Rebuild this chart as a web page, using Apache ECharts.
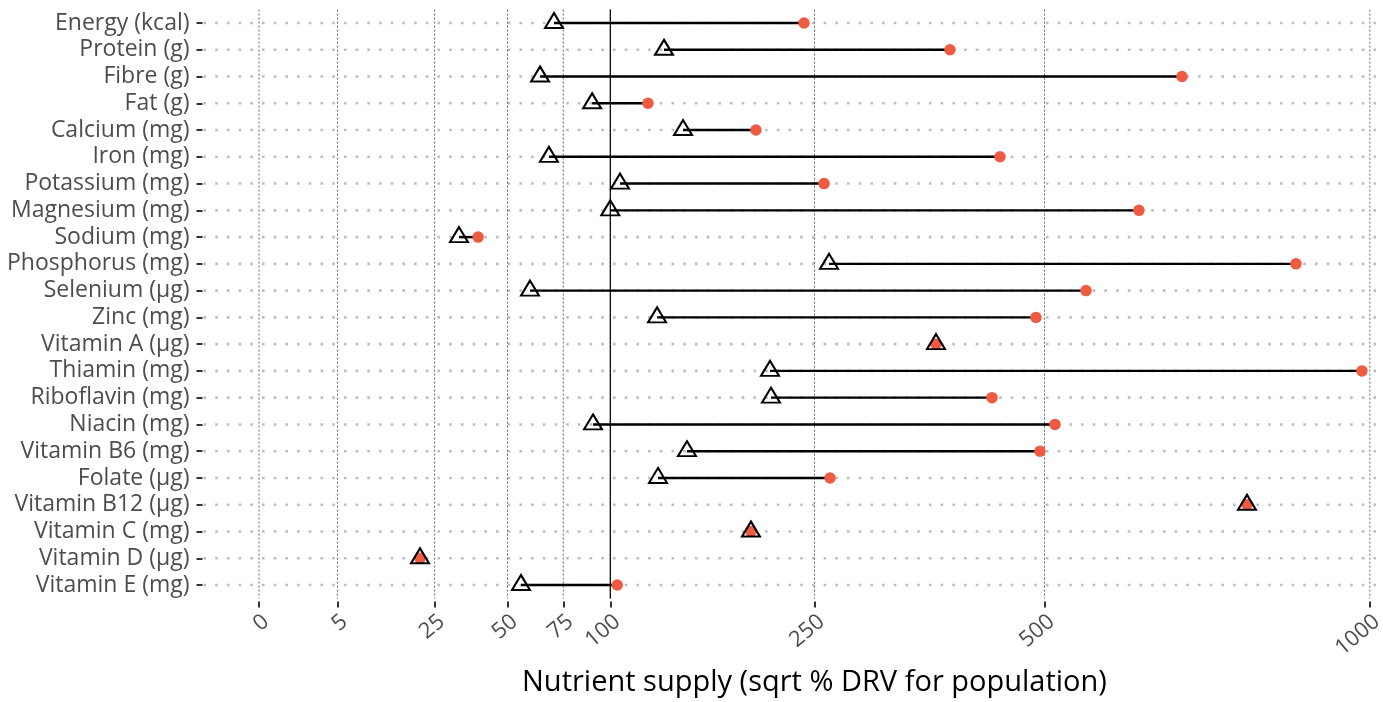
<!DOCTYPE html>
<html><head><meta charset="utf-8">
<script src="https://cdn.jsdelivr.net/npm/echarts@6/dist/echarts.min.js"></script>
<style>html,body{margin:0;padding:0;background:#fff}#c{width:1383px;height:702px}</style>
</head><body><div id="c"></div>
<script>
const categories = ["Energy (kcal)","Protein (g)","Fibre (g)","Fat (g)","Calcium (mg)","Iron (mg)","Potassium (mg)","Magnesium (mg)","Sodium (mg)","Phosphorus (mg)","Selenium (µg)","Zinc (mg)","Vitamin A (µg)","Thiamin (mg)","Riboflavin (mg)","Niacin (mg)","Vitamin B6 (mg)","Folate (µg)","Vitamin B12 (µg)","Vitamin C (mg)","Vitamin D (µg)","Vitamin E (mg)"];
const triangleValues = [70.5,132.9,64.0,89.9,145.7,68.1,105.6,100,32.4,263.3,59.5,128.4,371.4,211.6,212.4,90.4,148.4,129.0,791.0,196.1,21.0,55.6];
const circleValues = [240.7,386.9,690.3,122.6,200.1,444.9,258.7,627.5,38.9,871.4,554.2,489.2,371.4,985.8,435.4,513.4,494.2,264.2,791.0,196.1,21.0,104.0];
const tickLabels = [0,5,25,50,75,100,250,500,1000];
const refValue = 100;

const sq = Math.sqrt;
const tickPos = tickLabels.map(v => sq(v));
const axisMax = sq(1000) * 1.05;
const axisMin = -sq(1000) * 0.05;

const chart = echarts.init(document.getElementById('c'));
const FONT = 'Open Sans';
const segData = categories.map((c, i) => [sq(triangleValues[i]), sq(circleValues[i]), i]);

function vline(color, width, dash) {
  return (params, api) => {
    const cs = params.coordSys;
    const x = api.coord([api.value(0), 0])[0];
    return {type: 'line', shape: {x1: x, y1: cs.y, x2: x, y2: cs.y + cs.height},
      style: {stroke: color, lineWidth: width, lineDash: dash}};
  };
}

chart.setOption({
  animation: false,
  grid: {left: 203.5, width: 1221.9, top: 9.6, height: 588.8, containLabel: false, outerBoundsMode: 'none'},
  xAxis: {
    type: 'value', min: axisMin, max: axisMax, offset: 3,
    axisLine: {show: false, onZero: false},
    axisTick: {show: true, customValues: tickPos, length: 6, lineStyle: {color: '#333', width: 2}},
    axisLabel: {customValues: tickPos, rotate: 40, margin: 9, verticalAlign: 'top', align: 'right',
      color: '#4d4d4d', fontSize: 22, fontFamily: FONT,
      formatter: v => String(Math.round(v * v))},
    splitLine: {show: false},
    name: 'Nutrient supply (sqrt % DRV for population)', nameLocation: 'middle', nameGap: 67,
    nameTextStyle: {color: '#000', fontSize: 29, fontFamily: FONT}
  },
  yAxis: {
    type: 'category', inverse: true, data: categories, offset: 1,
    axisLine: {show: false, onZero: false},
    axisTick: {show: true, alignWithLabel: true, interval: 0, length: 6, lineStyle: {color: '#333', width: 2}},
    axisLabel: {interval: 0, color: '#4d4d4d', fontSize: 23, fontFamily: FONT, margin: 13},
    splitLine: {show: false}
  },
  series: [
    {
      type: 'custom', name: 'hgrid', z: 0, silent: true,
      data: categories.map((c, i) => [0, i]),
      encode: {x: 0, y: 1},
      renderItem: (params, api) => {
        const cs = params.coordSys;
        const y = api.coord([0, api.value(1)])[1];
        return {type: 'line', shape: {x1: cs.x, y1: y, x2: cs.x + cs.width, y2: y},
          style: {stroke: '#bdbdbd', lineWidth: 2.6, lineDash: [2.6, 9.1]}};
      }
    },
    {
      type: 'custom', name: 'vgrid', z: 1, silent: true,
      data: tickPos.map(v => [v, 0]), encode: {x: 0, y: 1},
      renderItem: vline('#555', 0.9, [2, 2])
    },
    {
      type: 'custom', name: 'ref', z: 1, silent: true,
      data: [[sq(refValue), 0]], encode: {x: 0, y: 1},
      renderItem: vline('#000', 1.2, null)
    },
    {
      type: 'custom', name: 'seg', data: segData, z: 2,
      encode: {x: [0, 1], y: 2},
      renderItem: (params, api) => {
        const p1 = api.coord([api.value(0), api.value(2)]);
        const p2 = api.coord([api.value(1), api.value(2)]);
        return {type: 'line', shape: {x1: p1[0], y1: p1[1], x2: p2[0], y2: p2[1]},
          style: {stroke: '#000', lineWidth: 2.4}};
      }
    },
    {
      type: 'scatter', name: 'circle', z: 3, symbol: 'circle', symbolSize: 11.5,
      itemStyle: {color: '#EE5B42', opacity: 1},
      data: categories.map((c, i) => [sq(circleValues[i]), i])
    },
    {
      type: 'scatter', name: 'triangle', z: 4, symbol: 'triangle', symbolSize: [18, 15], symbolOffset: [0, -2.5],
      itemStyle: {color: 'rgba(0,0,0,0)', borderColor: '#000', borderWidth: 2, opacity: 1},
      data: categories.map((c, i) => [sq(triangleValues[i]), i])
    }
  ]
});
</script></body></html>
